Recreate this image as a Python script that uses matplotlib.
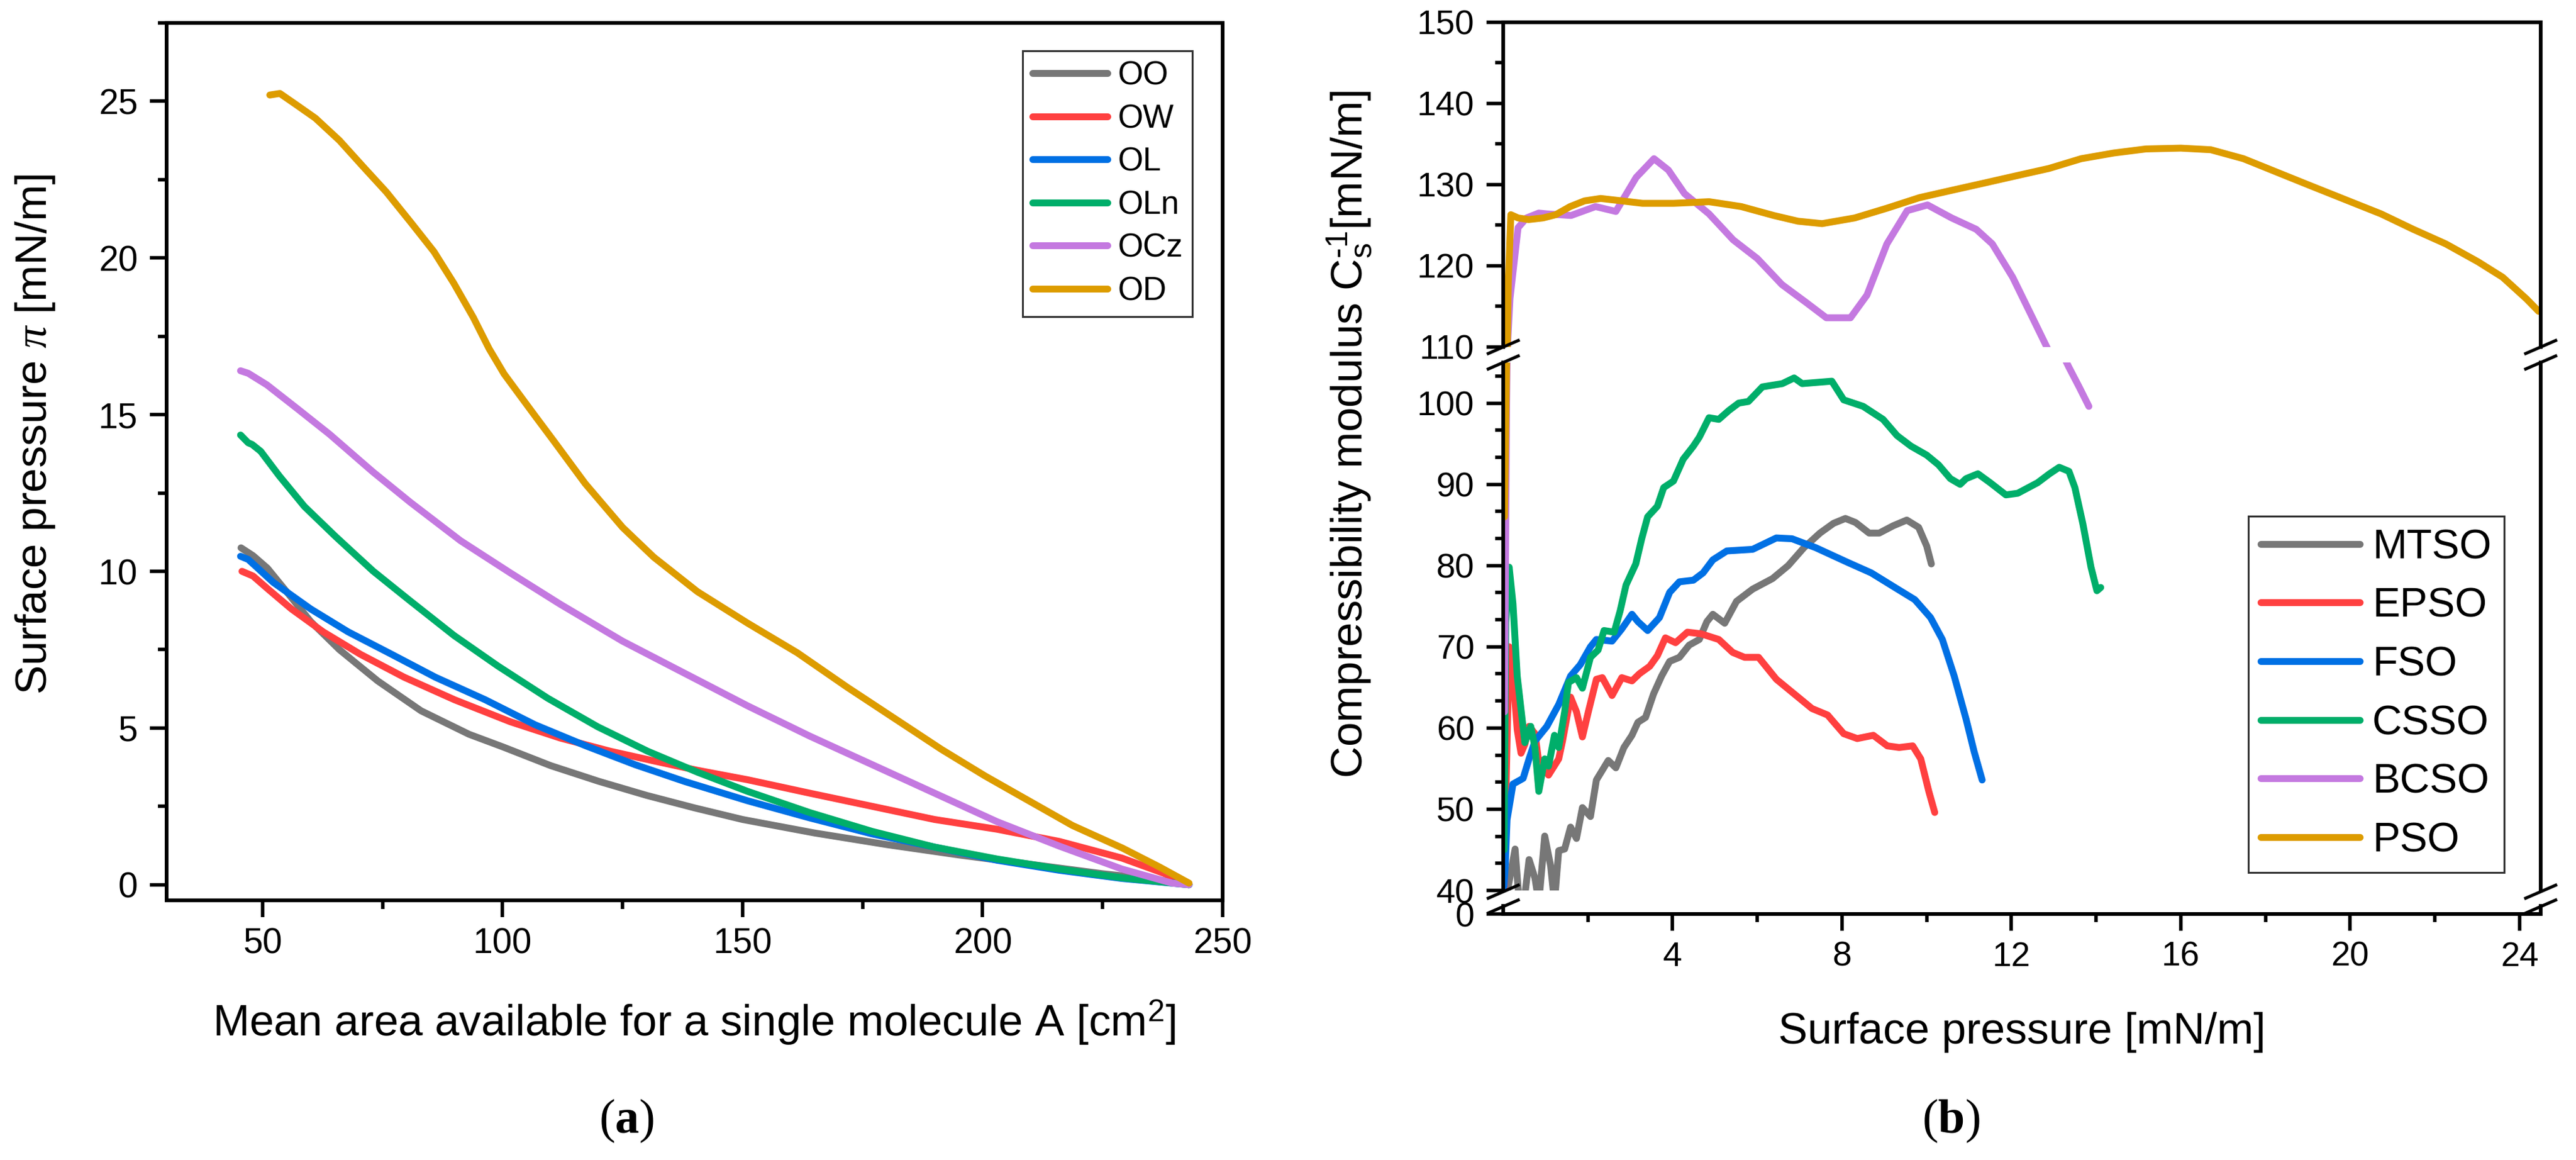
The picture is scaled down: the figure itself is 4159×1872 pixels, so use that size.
"""Two-panel Langmuir figure: pi-A isotherms (a) and compressibility modulus with broken y axis (b)."""
import matplotlib
matplotlib.use("Agg")
import matplotlib.pyplot as plt
from matplotlib.ticker import MultipleLocator, FixedLocator, AutoMinorLocator
from matplotlib.lines import Line2D

plt.rcParams["font.family"] = ["Liberation Sans", "DejaVu Sans"]
plt.rcParams["mathtext.fontset"] = "custom"
plt.rcParams["mathtext.rm"] = "Liberation Sans"
plt.rcParams["mathtext.it"] = "Liberation Serif:italic"
plt.rcParams["mathtext.bf"] = "Liberation Serif:bold"

# ---------------- panel (a) data: surface pressure vs mean area ----------------
OO_x = [45.5, 48, 51, 55, 60, 66, 74, 83, 93, 100, 110, 120, 130, 140, 150, 165, 180, 195, 210, 225, 237, 243]
OO_y = [10.75, 10.5, 10.1, 9.35, 8.4, 7.5, 6.5, 5.55, 4.8, 4.4, 3.8, 3.3, 2.85, 2.45, 2.08, 1.65, 1.28, 0.95, 0.65, 0.35, 0.15, 0.0]
OW_x = [45.7, 48, 51, 56, 62.6, 70.4, 79.5, 90, 101.6, 112, 122.4, 131.5, 140.6, 151, 164, 177, 190, 203, 216, 229, 238, 243]
OW_y = [10.0, 9.85, 9.45, 8.8, 8.07, 7.35, 6.62, 5.9, 5.2, 4.68, 4.26, 3.95, 3.65, 3.35, 2.92, 2.5, 2.08, 1.77, 1.38, 0.85, 0.35, 0.02]
OL_x = [45.4, 47, 52.2, 60, 67.8, 76.9, 86, 96.4, 106.8, 117.2, 127.6, 138, 151, 164, 177, 190, 203, 216, 229, 243]
OL_y = [10.48, 10.38, 9.65, 8.8, 8.07, 7.35, 6.62, 5.9, 5.1, 4.44, 3.83, 3.29, 2.68, 2.13, 1.62, 1.2, 0.78, 0.46, 0.2, 0.0]
OLn_x = [45.4, 47, 47.8, 49.6, 53.5, 58.7, 65.2, 73, 80.8, 89.9, 99, 109.4, 119.8, 130.2, 140.6, 151, 164, 177, 190, 203, 216, 229, 243]
OLn_y = [14.35, 14.1, 14.05, 13.83, 13.04, 12.07, 11.11, 10.01, 9.05, 7.95, 6.98, 5.95, 5.04, 4.26, 3.59, 2.98, 2.3, 1.7, 1.2, 0.82, 0.5, 0.22, 0.0]
OCz_x = [45.4, 47, 50.9, 57.4, 63.9, 73, 80.8, 91.2, 101.6, 112, 125, 138, 151, 164, 177, 190, 203, 216, 229, 239.5, 243]
OCz_y = [16.4, 16.32, 15.95, 15.17, 14.38, 13.17, 12.2, 10.98, 9.95, 8.95, 7.77, 6.74, 5.71, 4.74, 3.83, 2.92, 2.01, 1.23, 0.5, 0.05, 0.0]
OD_x = [51.5, 53.6, 56.9, 61, 66, 70.9, 75.8, 80.8, 85.7, 89.8, 93.9, 97.2, 100.3, 106.8, 110.7, 117.2, 125, 131.5,
        140.6, 151, 161.4, 171.8, 182.2, 191.4, 200.5, 209.6, 218.7, 229.1, 236.9, 243]
OD_y = [25.2, 25.25, 24.9, 24.46, 23.75, 22.92, 22.1, 21.15, 20.2, 19.2, 18.1, 17.1, 16.3, 14.95, 14.15, 12.8, 11.4, 10.45,
        9.35, 8.35, 7.4, 6.3, 5.25, 4.32, 3.47, 2.68, 1.89, 1.17, 0.56, 0.05]

A_NAMES = ["OO", "OW", "OL", "OLn", "OCz", "OD"]
A_X = [OO_x, OW_x, OL_x, OLn_x, OCz_x, OD_x]
A_Y = [OO_y, OW_y, OL_y, OLn_y, OCz_y, OD_y]
A_XTICKS = [50, 100, 150, 200, 250]
A_XMINOR = [75, 125, 175, 225]
A_YMINOR = [2.5, 7.5, 12.5, 17.5, 22.5, 27.5]

# ---------------- panel (b) data: compressibility modulus vs surface pressure ----------------
MTSO_x = [0.02, 0.14, 0.28, 0.37, 0.49, 0.61, 0.75, 0.84, 0.98, 1.12, 1.21, 1.31, 1.45, 1.59, 1.73, 1.87, 2.06, 2.2, 2.48,
          2.66, 2.85, 3.04, 3.18, 3.36, 3.55, 3.74, 3.93, 4.16, 4.39, 4.63, 4.81, 4.95, 5.23, 5.51, 5.89, 6.36, 6.73,
          7.1, 7.48, 7.8, 8.08, 8.32, 8.64, 8.88, 9.21, 9.53, 9.81, 10.0, 10.11]
MTSO_y = [38, 41.1, 45.1, 39, 38.5, 43.8, 41.5, 38.5, 46.7, 43, 38.5, 44.9, 45.1, 47.8, 46.4, 50.2, 49.1, 53.6, 56.0,
          55.1, 57.6, 59.1, 60.7, 61.3, 64.2, 66.4, 68.2, 68.7, 70.2, 70.9, 73.1, 74.0, 72.9, 75.6, 77.1, 78.4, 80.0,
          82.2, 84.0, 85.2, 85.8, 85.3, 84.0, 84.0, 84.9, 85.6, 84.7, 82.4, 80.2]
EPSO_x = [0.02, 0.05, 0.14, 0.23, 0.33, 0.42, 0.51, 0.61, 0.75, 0.84, 1.07, 1.31, 1.4, 1.59, 1.73, 1.87, 2.01, 2.2, 2.34,
          2.57, 2.8, 3.04, 3.22, 3.46, 3.64, 3.83, 4.07, 4.35, 4.67, 5.09, 5.42, 5.7, 6.03, 6.45, 6.87, 7.29, 7.66,
          8.04, 8.36, 8.74, 9.07, 9.35, 9.67, 9.86, 10.05, 10.19]
EPSO_y = [38, 48.7, 70.0, 66.4, 59.8, 56.9, 58.0, 60.2, 59.3, 55.8, 54.2, 56.2, 58.4, 63.8, 62.0, 58.9, 62.0, 66.0, 66.2,
          64.0, 66.2, 65.8, 66.7, 67.6, 68.9, 71.1, 70.5, 71.8, 71.6, 70.9, 69.3, 68.7, 68.7, 66.0, 64.2, 62.4, 61.6,
          59.3, 58.7, 59.1, 57.8, 57.6, 57.8, 56.2, 52.2, 49.6]
FSO_x = [0.02, 0.05, 0.09, 0.23, 0.47, 0.61, 0.75, 1.03, 1.31, 1.59, 1.82, 2.06, 2.2, 2.57, 2.8, 3.04, 3.18, 3.41, 3.69,
         3.93, 4.16, 4.49, 4.72, 4.95, 5.28, 5.89, 6.17, 6.45, 6.82, 7.38, 8.13, 8.69, 9.25, 9.72, 10.09, 10.37, 10.65,
         10.93, 11.12, 11.31]
FSO_y = [40.5, 43.3, 48.7, 53.1, 53.8, 56.2, 58.4, 60.2, 62.9, 66.4, 67.8, 70.0, 70.9, 70.7, 72.2, 74.0, 73.1, 72.0, 73.6,
         76.7, 78.0, 78.2, 79.1, 80.7, 81.8, 82.0, 82.7, 83.4, 83.3, 82.2, 80.4, 79.1, 77.3, 75.8, 73.6, 70.9, 66.4,
         61.1, 57.1, 53.6]
CSSO_x = [0.02, 0.06, 0.14, 0.23, 0.33, 0.51, 0.65, 0.75, 0.84, 0.98, 1.07, 1.21, 1.31, 1.45, 1.54, 1.73, 1.87, 2.06,
          2.24, 2.38, 2.62, 2.76, 2.9, 3.13, 3.27, 3.41, 3.64, 3.79, 4.02, 4.25, 4.49, 4.63, 4.86, 5.09, 5.33, 5.56,
          5.79, 6.12, 6.59, 6.87, 7.06, 7.76, 8.04, 8.5, 8.97, 9.3, 9.63, 10.0, 10.28, 10.56, 10.79, 10.93, 11.21,
          11.5, 11.87, 12.15, 12.62, 12.9, 13.13, 13.36, 13.5, 13.69, 13.88, 14.02, 14.11]
CSSO_y = [45, 73, 79.8, 75.3, 66.4, 58.2, 60.2, 57.6, 52.2, 56.2, 55.3, 59.1, 57.6, 62.0, 65.6, 66.2, 64.9, 68.7,
          69.6, 72.0, 71.8, 74.4, 77.6, 80.2, 83.3, 86.0, 87.3, 89.6, 90.4, 93.1, 94.7, 95.8, 98.2, 98.0, 99.1, 100.0,
          100.2, 102.0, 102.4, 103.1, 102.4, 102.7, 100.4, 99.6, 98.0, 96.0, 94.7, 93.6, 92.4, 90.7, 90.0, 90.7, 91.3,
          90.2, 88.7, 88.9, 90.2, 91.3, 92.1, 91.6, 89.6, 85.1, 79.8, 76.9, 77.3]
BCSO_x = [0.03, 0.06, 0.08, 0.1, 0.16, 0.35, 0.55, 0.84, 1.03, 1.6, 2.18, 2.66, 3.14, 3.56, 3.9, 4.28, 4.86, 5.43, 6.0,
          6.58, 7.15, 7.63, 8.2, 8.59, 9.06, 9.54, 10.02, 10.59, 11.17, 11.55, 12.03, 12.5, 12.79, 13.36, 13.6, 13.83]
BCSO_y = [62, 85, 100, 110, 116, 124.7, 125.9, 126.5, 126.4, 126.2, 127.3, 126.7, 130.9, 133.2, 131.8, 128.9, 126.4,
          123.2, 120.9, 117.7, 115.5, 113.6, 113.6, 116.4, 122.7, 126.8, 127.5, 125.9, 124.5, 122.7, 118.6, 113.6,
          110.5, 104.4, 102.0, 99.6]
PSO_x = [0.03, 0.08, 0.12, 0.18, 0.35, 0.6, 0.94, 1.24, 1.58, 1.92, 2.3, 2.8, 3.29, 4.02, 4.46, 4.86, 5.62, 6.39, 6.96,
         7.53, 8.3, 9.06, 9.83, 10.59, 11.36, 12.12, 12.89, 13.65, 14.42, 15.18, 16.0, 16.71, 17.48, 18.24, 19.0,
         19.96, 20.73, 21.49, 22.26, 23.02, 23.6, 24.17, 24.45]
PSO_y = [86, 105, 118, 126.3, 125.9, 125.7, 125.9, 126.3, 127.3, 128.0, 128.3, 128.0, 127.7, 127.7, 127.8, 127.9, 127.3,
         126.2, 125.5, 125.2, 125.9, 127.1, 128.4, 129.3, 130.2, 131.1, 132.0, 133.2, 133.9, 134.4, 134.5, 134.3,
         133.2, 131.6, 130.0, 128.0, 126.4, 124.5, 122.7, 120.5, 118.6, 115.9, 114.4]

B_NAMES = ["MTSO", "EPSO", "FSO", "CSSO", "BCSO", "PSO"]
B_X = [MTSO_x, EPSO_x, FSO_x, CSSO_x, BCSO_x, PSO_x]
B_Y = [MTSO_y, EPSO_y, FSO_y, CSSO_y, BCSO_y, PSO_y]
B_XTICKS = [4, 8, 12, 16, 20, 24]
B_XMINOR = [2, 6, 10, 14, 18, 22]

COLORS = ["#777777", "#FF4040", "#0070E4", "#00AE6A", "#C479E0", "#DD9C00"]

W, H, DPI = 4159, 1872, 100
SPINE_LW = 4.3
TICK_W = 4.0
LINE_LW = 8

fig = plt.figure(figsize=(W / DPI, H / DPI), dpi=DPI)


def add_px_axes(x0, y0, x1, y1):
    # pixel box measured from the top-left corner of the picture
    return fig.add_axes([x0 / W, 1 - y1 / H, (x1 - x0) / W, (y1 - y0) / H])


def style(ax, labelsize, minor_len=10):
    ax.tick_params(which="both", direction="out", width=TICK_W, colors="black", labelsize=labelsize)
    ax.tick_params(which="major", length=19.5)
    ax.tick_params(which="minor", length=minor_len)
    ax.tick_params(axis="y", which="both", pad=14)
    ax.tick_params(axis="x", which="both", pad=12)
    for s in ax.spines.values():
        s.set_linewidth(SPINE_LW)


def boxed_legend(ax, x_px, y_px, size, hlen, spacing):
    leg = ax.legend(loc="upper left", bbox_to_anchor=(x_px / W, 1 - y_px / H), bbox_transform=fig.transFigure,
                    fontsize=size, handlelength=hlen, handletextpad=0.3, labelspacing=spacing, borderpad=0.3,
                    borderaxespad=0, fancybox=False)
    leg.get_frame().set_edgecolor("black")
    leg.get_frame().set_linewidth(2.2)
    return leg


# ---------------- (a) ----------------
axa = add_px_axes(269, 37, 1974, 1453)
for name, x, y, c in zip(A_NAMES, A_X, A_Y, COLORS):
    axa.plot(x, y, color=c, lw=LINE_LW, solid_capstyle="round", solid_joinstyle="round", label=name)
axa.set_xlim(30, 250)
axa.set_ylim(-0.5, 27.5)
axa.xaxis.set_major_locator(FixedLocator(A_XTICKS))
axa.xaxis.set_minor_locator(FixedLocator(A_XMINOR))
axa.yaxis.set_major_locator(MultipleLocator(5))
axa.yaxis.set_minor_locator(FixedLocator(A_YMINOR))
style(axa, 41)
boxed_legend(axa, 1651, 82, 38, 2.3, 0.37)

fig.text(57 / W, 1 - 701 / H, r"Surface pressure $\pi$ [mN/m]", rotation=90, ha="center", va="center", fontsize=51)
fig.text(1121 / W, 1 - 1672 / H, r"Mean area available for a single molecule A [cm$^{2}$]",
         ha="center", va="baseline", fontsize=51)
fig.text(1012 / W, 1 - 1809 / H, r"($\mathbf{a}$)", ha="center", va="center", fontsize=56, family="Liberation Serif")

# ---------------- (b) broken y axis: three stacked pieces ----------------
RX0, RX1 = 2427, 4102
ax_top = add_px_axes(RX0, 36, RX1, 560)
ax_mid = add_px_axes(RX0, 585, RX1, 1437)
ax_bot = add_px_axes(RX0, 1462, RX1, 1475)

for ax in (ax_top, ax_mid):
    for name, x, y, c in zip(B_NAMES, B_X, B_Y, COLORS):
        ax.plot(x, y, color=c, lw=LINE_LW, solid_capstyle="round", solid_joinstyle="round",
                label=name if ax is ax_mid else None)

for ax in (ax_top, ax_mid, ax_bot):
    ax.set_xlim(0, 24.5)
    style(ax, 40, minor_len=9.5)
    ax.patch.set_alpha(0)

ax_top.set_ylim(110, 150)
ax_top.yaxis.set_major_locator(MultipleLocator(10))
ax_top.yaxis.set_minor_locator(MultipleLocator(5))
ax_top.spines["bottom"].set_visible(False)

ax_mid.set_ylim(40, 105)
ax_mid.yaxis.set_major_locator(MultipleLocator(10))
ax_mid.yaxis.set_minor_locator(AutoMinorLocator(3))
ax_mid.spines["top"].set_visible(False)
ax_mid.spines["bottom"].set_visible(False)

ax_bot.set_ylim(0, 1)
ax_bot.yaxis.set_major_locator(FixedLocator([0]))
ax_bot.yaxis.set_minor_locator(FixedLocator([]))
ax_bot.spines["top"].set_visible(False)

for ax in (ax_top, ax_mid):
    ax.tick_params(axis="x", which="both", bottom=False, labelbottom=False)
ax_bot.xaxis.set_major_locator(FixedLocator(B_XTICKS))
ax_bot.xaxis.set_minor_locator(FixedLocator(B_XMINOR))


def break_marks(x_px, centres):
    for yc in centres:
        fig.add_artist(Line2D([(x_px - 26.5) / W, (x_px + 26.5) / W], [1 - (yc + 11.5) / H, 1 - (yc - 11.5) / H],
                              transform=fig.transFigure, color="black", lw=3.6, solid_capstyle="butt"))


for xs in (RX0, RX1):
    break_marks(xs, [560, 585, 1439, 1463])

boxed_legend(ax_mid, 3630, 833, 48, 2.4, 0.49)

fig.text(2179 / W, 1 - 701 / H, r"Compressibility modulus C$_\mathrm{s}^{\text{-}1}$[mN/m]", rotation=90,
         ha="center", va="center", fontsize=51)
fig.text(3264 / W, 1 - 1684 / H, "Surface pressure [mN/m]", ha="center", va="baseline", fontsize=51)
fig.text(3150 / W, 1 - 1809 / H, r"($\mathbf{b}$)", ha="center", va="center", fontsize=56, family="Liberation Serif")

fig.savefig("out.png", dpi=DPI)
